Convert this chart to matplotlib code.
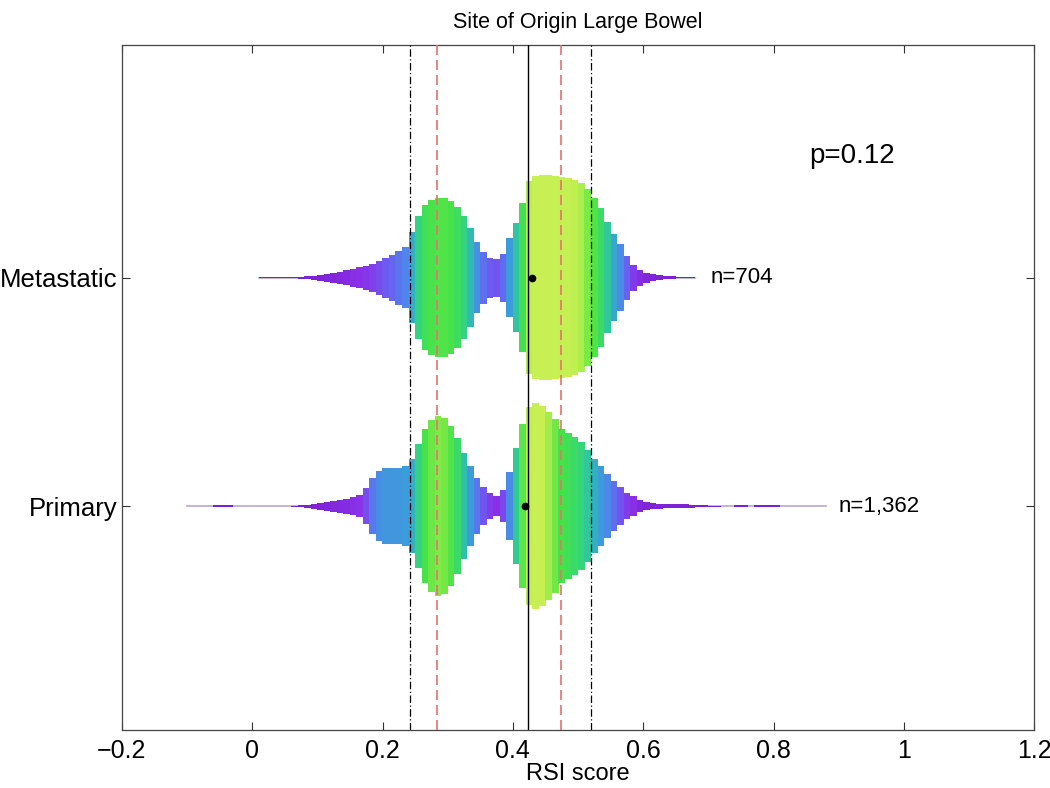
import matplotlib
matplotlib.use("Agg")
import matplotlib.pyplot as plt
import numpy as np
from matplotlib.colors import LinearSegmentedColormap

# ---------------- data ----------------
title = "Site of Origin Large Bowel"
categories = ["Primary", "Metastatic"]
counts = ["n=1,362", "n=704"]
p_text = "p=0.12"
xlabel = "RSI score"
xticks = [-0.2, 0, 0.2, 0.4, 0.6, 0.8, 1.0, 1.2]
xticklabels = ["\u22120.2", "0", "0.2", "0.4", "0.6", "0.8", "1", "1.2"]

bin_width = 0.01

# Metastatic density profile (bin centres start at 0.015)
met_start = 0.015
met_density = [0.5, 0.5, 0.5, 0.6, 0.7, 0.8, 1, 1.5, 2, 3,
               4, 5, 6, 7.5, 9, 10.5, 12, 14, 17, 20,
               23, 27, 31, 46, 62, 73, 78, 80, 80, 77,
               71, 62, 50, 36, 26, 20, 19, 24, 40, 55,
               75, 97, 102, 103, 103, 102, 101, 100, 98, 95,
               89, 80, 70, 56, 44, 34, 22, 13, 8, 5,
               3.5, 2.5, 1.8, 1.2, 0.9, 0.7, 0.5]

# Primary density profile (bin centres start at -0.095)
pri_start = -0.095
pri_density = [0.3, 0.3, 0.3, 0.3, 0.8, 0.8, 0.8, 0.3, 0.3, 0.3,
               0.3, 0.3, 0.3, 0.3, 0.3, 0.3, 0.5, 0.8, 1.5, 2.5,
               3.5, 4.5, 5.5, 6.5, 7.5, 9, 11, 18, 28, 35,
               38, 38, 38, 40, 47, 62, 77, 86, 90, 88,
               80, 68, 53, 40, 28, 19, 13, 10, 16, 34,
               58, 82, 99, 103, 100, 94, 87, 77, 73, 69,
               64, 56, 47, 40, 32, 25, 19, 13, 10, 6,
               4, 3, 2.5, 2, 2, 2, 1.8, 1.5, 1.2, 1,
               0.5, 0.5, 0.3, 0.3, 0.8, 0.8, 0.3, 0.8, 0.8, 0.8,
               0.8, 0.3, 0.3, 0.3, 0.3, 0.3, 0.3, 0.3]

medians = [0.418, 0.429]            # Primary, Metastatic
vlines_dashdot = [0.242, 0.520]
vlines_dashed = [0.284, 0.474]
vline_solid = 0.423

# ---------------- style ----------------
plt.rcParams['font.family'] = ['Liberation Sans', 'DejaVu Sans']

cmap = LinearSegmentedColormap.from_list("rsi", [
    (0.00, "#7A1FD2"),
    (0.10, "#8A30E8"),
    (0.20, "#6C5CF2"),
    (0.30, "#4F84EC"),
    (0.40, "#3A9ED8"),
    (0.50, "#2FBDB0"),
    (0.62, "#35D67A"),
    (0.75, "#45E24A"),
    (0.87, "#7BEA45"),
    (0.95, "#C0F050"),
    (1.00, "#C8F055"),
])

fig = plt.figure(figsize=(10.5, 7.88), dpi=100)
ax = fig.add_axes([0.116, 0.073, 0.869, 0.870])

max_hw = 0.45
all_max = max(max(met_density), max(pri_density))

profiles = [(pri_start, pri_density), (met_start, met_density)]
for ypos, (start, dens) in zip([1, 2], profiles):
    dens = np.asarray(dens, dtype=float)
    centres = start + bin_width * np.arange(len(dens))
    hw = dens / all_max * max_hw
    norm = dens / dens.max()
    # thin centre line across the extent
    ax.plot([centres[0] - bin_width / 2, centres[-1] + bin_width / 2], [ypos, ypos],
            color="#b8a8c8", lw=1.2, zorder=1)
    ax.bar(centres, 2 * hw, bottom=ypos - hw, width=bin_width * 1.02,
           color=cmap(norm), edgecolor="none", linewidth=0, zorder=2)

for x in vlines_dashdot:
    ax.axvline(x, color="black", lw=0.9, ls=(0, (6, 2, 1, 2)), zorder=3)
for x in vlines_dashed:
    ax.axvline(x, color="#E87070", lw=1.2, ls=(0, (6, 3)), zorder=3)
ax.axvline(vline_solid, color="black", lw=1.0, zorder=3)

ax.plot(medians, [1, 2], 'o', color="black", ms=4.5, zorder=4, ls="none")

ax.text(0.703, 2, counts[1], fontsize=16, va="center", ha="left")
ax.text(0.900, 1, counts[0], fontsize=16, va="center", ha="left")
ax.text(0.855, 2.53, p_text, fontsize=20, va="center", ha="left")

ax.set_xlim(-0.2, 1.2)
ax.set_ylim(0.018, 3.018)
ax.set_xticks(xticks)
ax.set_xticklabels(xticklabels, fontsize=18)
ax.set_yticks([1, 2])
ax.set_yticklabels(categories, fontsize=18.5)
ax.tick_params(direction="in", top=True, right=True, length=6, width=0.8,
               colors="#333333", labelcolor="black")
ax.tick_params(axis="x", pad=6)
ax.tick_params(axis="y", pad=3)
for s in ax.spines.values():
    s.set_color("#444444")
    s.set_linewidth(0.9)
ax.set_xlabel(xlabel, fontsize=17, labelpad=0)
ax.set_title(title, fontsize=15.5, pad=12)

fig.savefig("out.png", dpi=100, facecolor="white")
